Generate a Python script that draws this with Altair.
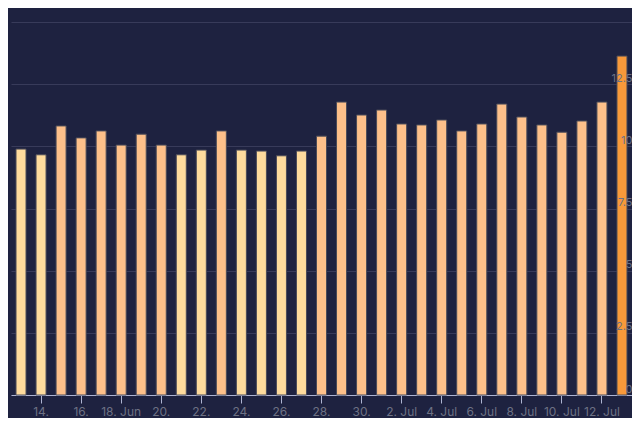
import altair as alt
import pandas as pd

dates = ["13. Jun", "14. Jun", "15. Jun", "16. Jun", "17. Jun", "18. Jun", "19. Jun",
         "20. Jun", "21. Jun", "22. Jun", "23. Jun", "24. Jun", "25. Jun", "26. Jun",
         "27. Jun", "28. Jun", "29. Jun", "30. Jun", "1. Jul", "2. Jul", "3. Jul",
         "4. Jul", "5. Jul", "6. Jul", "7. Jul", "8. Jul", "9. Jul", "10. Jul",
         "11. Jul", "12. Jul", "13. Jul"]
values = [9.89, 9.66, 10.82, 10.34, 10.62, 10.05, 10.49, 10.05, 9.66, 9.85, 10.62,
          9.85, 9.81, 9.62, 9.81, 10.41, 11.78, 11.26, 11.46, 10.90, 10.86, 11.06,
          10.62, 10.90, 11.70, 11.18, 10.86, 10.57, 11.02, 11.78, 13.63]
tick_dates = dates[1::2]
y_ticks = [0, 2.5, 5, 7.5, 10, 12.5, 15]
color_breaks = [10, 12.5]
color_range = ["#fedb9d", "#fdc08a", "#f8993a"]

df = pd.DataFrame({"date": dates, "value": values})

xenc = alt.X(
    "date:O", sort=dates, title=None,
    scale=alt.Scale(paddingInner=0.5, paddingOuter=0.25),
    axis=alt.Axis(
        values=tick_dates, labelAngle=0,
        labelExpr="(datum.value == '18. Jun' || indexof(datum.value, 'Jul') >= 0) ? datum.value : split(datum.value, ' ')",
        domainColor="#aeb4d2", tickColor="#aeb4d2", tickSize=8,
        labelColor="#6d7184", labelFont="Inter", labelFontSize=12,
        labelPadding=3, labelLineHeight=14, labelBaseline="top", grid=False,
    ),
)
yscale = alt.Scale(domain=[0, 15], nice=False)

bars = alt.Chart(df).mark_bar(stroke="#4b4b58", strokeWidth=1).encode(
    x=xenc,
    y=alt.Y("value:Q", scale=yscale, title=None,
            axis=alt.Axis(values=y_ticks, labels=False, ticks=False, domain=False,
                          grid=True, gridColor="#383b5a", gridWidth=1, zindex=0,
                          orient="left")),
    color=alt.Color("value:Q", legend=None,
                    scale=alt.Scale(type="threshold", domain=color_breaks, range=color_range)),
)

labels = alt.Chart(df).mark_bar(opacity=0).encode(
    x=xenc,
    y=alt.Y("value:Q", scale=yscale, title=None,
            axis=alt.Axis(values=y_ticks, orient="right", grid=False, ticks=False,
                          domain=False, tickSize=0, labelPadding=0, labelAlign="right",
                          labelBaseline="bottom", labelOffset=-1,
                          labelColor="#6d7184", labelFont="Inter", labelFontSize=11,
                          labelExpr="datum.value == 15 ? '' : format(datum.value, '~g')",
                          zindex=2)),
)

chart = alt.layer(bars, labels).resolve_axis(y="independent").properties(
    width=621, height=373,
    autosize=alt.AutoSizeParams(type="none"),
    padding={"left": 3, "top": 14, "right": 0, "bottom": 23},
    background="#1e2240",
).configure_view(stroke=None)

chart.save("out.html", embed_options={"renderer": "svg", "actions": False})
